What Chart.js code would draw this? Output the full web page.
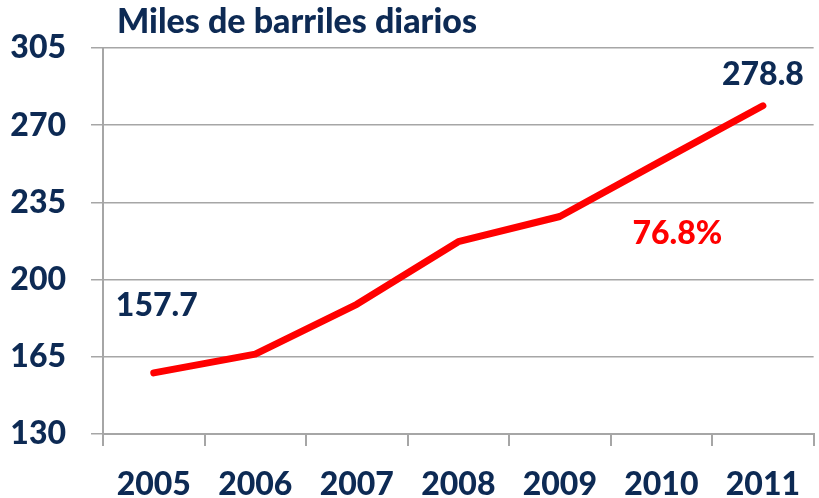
<!DOCTYPE html>
<html>
<head>
<meta charset="utf-8">
<script src="https://cdn.jsdelivr.net/npm/chart.js@4"></script>
<style>
  html, body { margin: 0; padding: 0; background: #fff; }
  #wrap { width: 819px; height: 498px; }
</style>
</head>
<body>
<div id="wrap"><canvas id="myChart"></canvas></div>
<script>
let anios = ['2005', '2006', '2007', '2008', '2009', '2010', '2011'];
let barriles = [157.7, 166.2, 188.8, 217.2, 228.6, 253.8, 278.8];
let ticksY = [130, 165, 200, 235, 270, 305];
let titulo = 'Miles de barriles diarios';
let crecimiento = '76.8%';

let azul = '#0d2a54';
let gris = '#a6a6a6';
let letra = 'Lato, "Open Sans", sans-serif';

// etiquetas y titulo dibujados encima
let textos = {
  id: 'textos',
  afterDraw(chart) {
    let ctx = chart.ctx;
    let x = chart.scales.x;
    let y = chart.scales.y;
    ctx.save();
    ctx.textBaseline = 'middle';
    ctx.font = '900 34px ' + letra;
    ctx.fillStyle = azul;
    ctx.textAlign = 'left';
    ctx.fillText(titulo, 117, 22);

    ctx.font = '900 32px ' + letra;
    ctx.textAlign = 'center';
    let n = barriles.length - 1;
    ctx.fillText(barriles[0].toFixed(1), x.getPixelForValue(0) + 3, y.getPixelForValue(barriles[0]) - 67);
    ctx.fillText(barriles[n].toFixed(1), x.getPixelForValue(n), y.getPixelForValue(barriles[n]) - 31);

    ctx.fillStyle = '#ff0000';
    ctx.fillText(crecimiento, x.getPixelForValue(5) + 16, y.getPixelForValue(221));
    ctx.restore();
  }
};

let ctx = document.getElementById('myChart').getContext('2d');
let chart = new Chart(ctx, {
  type: 'line',
  data: {
    labels: anios,
    datasets: [{
      data: barriles,
      borderColor: '#ff0000',
      borderWidth: 7,
      borderCapStyle: 'round',
      borderJoinStyle: 'round',
      pointRadius: 0,
      tension: 0,
      fill: false
    }]
  },
  options: {
    responsive: true,
    maintainAspectRatio: false,
    animation: false,
    layout: { padding: { left: 0, right: 0, top: 48, bottom: 0 } },
    plugins: {
      legend: { display: false },
      tooltip: { enabled: false }
    },
    scales: {
      x: {
        offset: true,
        grid: {
          offset: true,
          drawOnChartArea: false,
          drawTicks: true,
          tickLength: 12,
          color: gris,
          lineWidth: 2
        },
        border: { display: true, color: gris, width: 2 },
        ticks: {
          color: azul,
          font: { family: letra, size: 32, weight: '900' },
          padding: 19,
          maxRotation: 0
        },
        afterFit(s) { s.height = 64; }
      },
      y: {
        min: 130,
        max: 305,
        afterBuildTicks(s) { s.ticks = ticksY.map(v => ({ value: v })); },
        grid: {
          color: gris,
          lineWidth: 1.5,
          tickLength: 12
        },
        border: { display: true, color: gris, width: 2 },
        ticks: {
          color: azul,
          font: { family: letra, size: 32, weight: '900' },
          padding: 25
        },
        afterFit(s) { s.width = 103; }
      }
    }
  },
  plugins: [textos]
});
</script>
</body>
</html>
